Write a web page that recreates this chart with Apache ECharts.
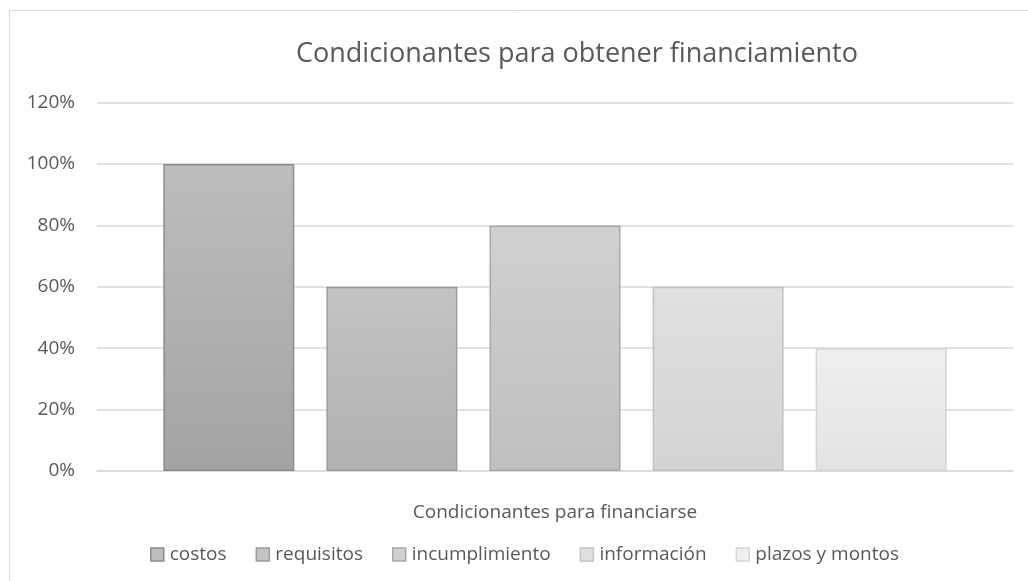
<!DOCTYPE html>
<html>
<head>
<meta charset="utf-8">
<script src="https://cdn.jsdelivr.net/npm/echarts@6/dist/echarts.min.js"></script>
<style>
  html, body { margin: 0; padding: 0; background: #fff; }
  #chart { width: 1028px; height: 581px; }
</style>
</head>
<body>
<div id="chart"></div>
<script>
// datos del gráfico
const categorias = ['']
const seriesNames = ['costos', 'requisitos', 'incumplimiento', 'información', 'plazos y montos']
const valores = [100, 60, 80, 60, 40]
const yTicks = [0, 20, 40, 60, 80, 100, 120]

// tonos de gris de cada barra: [arriba, abajo, borde]
const grises = [
  ['#bdbdbd', '#a3a3a3', '#8c8c8c'],
  ['#c3c3c3', '#b1b1b1', '#9c9c9c'],
  ['#d0d0d0', '#bfbfbf', '#a8a8a8'],
  ['#e0e0e0', '#d3d3d3', '#c2c2c2'],
  ['#efefef', '#e3e3e3', '#d5d5d5']
]

const font = '"Open Sans", "Liberation Sans", sans-serif'
const gris = '#595959'

const chart = echarts.init(document.getElementById('chart'))

const series = seriesNames.map((name, i) => ({
  name: name,
  type: 'bar',
  data: [valores[i]],
  barWidth: 131,
  barGap: '24.5%',
  itemStyle: {
    color: new echarts.graphic.LinearGradient(0, 0, 0, 1, [
      { offset: 0, color: grises[i][0] },
      { offset: 1, color: grises[i][1] }
    ]),
    borderColor: grises[i][2],
    borderWidth: 1.5
  },
  emphasis: { disabled: true }
}))

const option = {
  animation: false,
  backgroundColor: '#fff',
  graphic: [{
    type: 'rect',
    shape: { x: 9.5, y: 10.5, width: 1030, height: 600 },
    style: { fill: 'none', stroke: '#d9d9d9', lineWidth: 1 },
    silent: true
  }],
  title: {
    text: 'Condicionantes para obtener financiamiento',
    left: 572,
    textAlign: 'center',
    top: 36,
    textStyle: { color: gris, fontFamily: font, fontSize: 27, fontWeight: 'normal' }
  },
  legend: {
    left: 145,
    top: 540,
    itemWidth: 13,
    itemHeight: 13,
    itemGap: 29,
    icon: 'rect',
    textStyle: { color: gris, fontFamily: font, fontSize: 19, padding: [0, 0, 0, 1] },
    data: seriesNames.map((n, i) => ({
      name: n,
      itemStyle: { color: grises[i][0], borderColor: grises[i][2], borderWidth: 1.5 }
    }))
  },
  grid: { left: 97, right: 15, top: 102.6, bottom: 110 },
  xAxis: {
    type: 'category',
    data: categorias,
    name: 'Condicionantes para financiarse',
    nameLocation: 'middle',
    nameGap: 32,
    nameTextStyle: { color: gris, fontFamily: font, fontSize: 19 },
    axisLine: { show: true, lineStyle: { color: '#d9d9d9', width: 1.5 } },
    axisTick: { show: false },
    axisLabel: { show: false }
  },
  yAxis: {
    type: 'value',
    min: yTicks[0],
    max: yTicks[yTicks.length - 1],
    interval: 20,
    axisLine: { show: false },
    axisTick: { show: false },
    axisLabel: { color: gris, fontFamily: font, fontSize: 19, margin: 22, formatter: '{value}%' },
    splitLine: { show: true, lineStyle: { color: '#d9d9d9', width: 1.5 } }
  },
  series: series
}

chart.setOption(option)
</script>
</body>
</html>
